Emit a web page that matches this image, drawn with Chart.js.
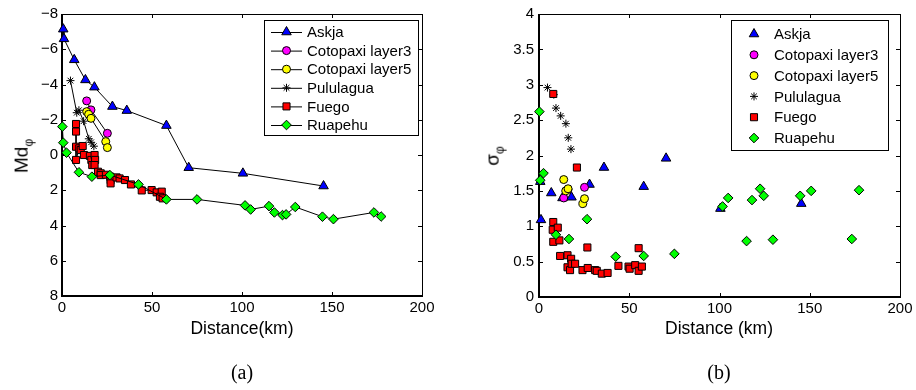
<!DOCTYPE html>
<html>
<head>
<meta charset="utf-8">
<script src="https://cdn.jsdelivr.net/npm/chart.js@4.4.0/dist/chart.umd.min.js"></script>
<style>
  body { margin: 0; background: #fff; }
  #wrap { position: relative; width: 916px; height: 390px; font-family: 'Liberation Sans', Arial, sans-serif; color: #000; }
  canvas { position: absolute; top: 0; }
  .lbl { position: absolute; transform: translate(-50%, -50%); white-space: nowrap; font-size: 17.5px; line-height: 1; }
  .rot { transform: translate(-50%, -50%) rotate(-90deg); font-size: 19px; }
  .cap { font-family: 'Liberation Serif', serif; font-size: 20px; }
  sub { font-size: 12px; }
</style>
</head>
<body>
<div id="wrap">
  <canvas id="chartA" width="458" height="390" style="left:0"></canvas>
  <canvas id="chartB" width="458" height="390" style="left:458px"></canvas>
  <div class="lbl rot" style="left:23px;top:156px">Md<sub>φ</sub></div>
  <div class="lbl rot" style="left:494px;top:156px">σ<sub>φ</sub></div>
  <div class="lbl" style="left:242px;top:329px">Distance(km)</div>
  <div class="lbl" style="left:719px;top:329px">Distance (km)</div>
  <div class="lbl cap" style="left:242px;top:372px">(a)</div>
  <div class="lbl cap" style="left:719px;top:372px">(b)</div>
</div>
<script>
// dữ liệu
const askjaDist = [0.7, 1.1, 6.8, 13, 18, 28, 36, 58, 70.4, 100.5, 145.3];
const askjaMd = [-7.14, -6.59, -5.4, -4.26, -3.85, -2.75, -2.52, -1.67, 0.72, 1.04, 1.76];
const askjaSigma = [1.63, 1.09, 1.47, 1.40, 1.41, 1.59, 1.83, 1.56, 1.96, 1.25, 1.32];

const coto3Dist = [13.7, 16.1, 25.2];
const coto3Md = [-3.07, -2.56, -1.23];
const coto3Sigma = [1.40, 1.52, 1.55];

const coto5Dist = [13.7, 14.8, 16.1, 24.3, 25.2];
const coto5Md = [-2.46, -2.31, -2.08, -0.76, -0.42];
const coto5Sigma = [1.66, 1.50, 1.53, 1.32, 1.39];

const pulDist = [4.7, 8.2, 9.4, 12, 14.9, 16.2, 17.7];
const pulMd = [-4.22, -2.4, -2.54, -1.92, -0.92, -0.72, -0.5];
const pulSigma = [2.96, 2.86, 2.67, 2.56, 2.45, 2.25, 2.09];

const fuegoDistA = [7.8, 7.8, 7.8, 7.8, 9.6, 10.4, 11.5, 12.2, 15.5, 16.3, 16.8, 18.1, 18.4, 18.1, 20.0, 21.5, 21.5, 24.4, 26.8, 27.0, 27.0, 30.3, 32.0, 35.0, 38.3, 44.3, 49.8, 52.6, 55.4, 54.4, 55.9];
const fuegoMd = [-1.76, -1.33, -0.47, 0.28, -0.38, -0.28, -0.51, 0.0, 0.05, 0.28, 0.57, 0.0, 0.28, 0.57, 0.95, 1.04, 1.14, 1.12, 1.23, 1.42, 1.61, 1.27, 1.33, 1.42, 1.67, 2.01, 1.99, 2.12, 2.08, 2.37, 2.46];
const fuegoDistB = [7.9, 7.9, 7.6, 7.9, 10.4, 11.3, 11.7, 15.8, 15.8, 17.2, 17.8, 18.1, 20.0, 21.0, 24.1, 26.8, 27.0, 31.1, 32.0, 34.8, 38.0, 44.0, 49.6, 50.2, 53.3, 55.2, 55.2, 57.0];
const fuegoSigma = [2.87, 1.06, 0.95, 0.78, 0.98, 0.80, 0.58, 0.59, 0.42, 0.38, 0.54, 0.47, 0.47, 1.83, 0.38, 0.70, 0.41, 0.38, 0.37, 0.33, 0.34, 0.44, 0.43, 0.40, 0.45, 0.69, 0.37, 0.43];

const ruaDist = [0.2, 0.7, 2.5, 9.4, 16.6, 26.6, 42.5, 58, 75, 101.7, 104.8, 115, 118, 122.5, 124.5, 129.6, 144.7, 150.8, 173.3, 177.3];
const ruaMd = [-1.61, -0.70, -0.13, 0.98, 1.23, 1.14, 1.67, 2.52, 2.52, 2.86, 3.09, 2.90, 3.26, 3.41, 3.37, 2.95, 3.5, 3.64, 3.26, 3.49];
const ruaSigma = [2.62, 1.65, 1.75, 0.88, 0.82, 1.10, 0.57, 0.58, 0.61, 1.28, 1.40, 0.79, 1.37, 1.53, 1.43, 0.81, 1.43, 1.50, 0.82, 1.51];

const xTicksMax = 200;
const mdRange = [-8, 8];
const sigmaRange = [0, 4];

const FONT = "'Liberation Sans', Arial, sans-serif";

function pts(dist, vals) {
    return dist.map((d, i) => ({ x: d, y: vals[i] }));
}

// kiểu điểm của từng chuỗi
const styles = [
    { label: 'Askja', pointStyle: 'triangle', color: '#0000ff', radius: 5.5 },
    { label: 'Cotopaxi layer3', pointStyle: 'circle', color: '#ff00ff', radius: 4 },
    { label: 'Cotopaxi layer5', pointStyle: 'circle', color: '#ffff00', radius: 4 },
    { label: 'Pululagua', pointStyle: 'star', color: '#000000', radius: 4 },
    { label: 'Fuego', pointStyle: 'rect', color: '#ff0000', radius: 5 },
    { label: 'Ruapehu', pointStyle: 'rectRot', color: '#00ff00', radius: 4.8 }
];

function makeDatasets(seriesData, withLine) {
    return seriesData.map((d, i) => {
        const s = styles[i];
        return {
            label: s.label,
            data: d,
            showLine: withLine,
            borderColor: '#000',
            borderWidth: 1,
            backgroundColor: s.color,
            pointStyle: s.pointStyle,
            pointRadius: s.radius,
            pointBackgroundColor: s.color,
            pointBorderColor: '#000',
            pointBorderWidth: 1,
            clip: false,
            order: styles.length - i
        };
    });
}

// khung + vạch chia hướng vào trong (giống MATLAB)
const boxPlugin = {
    id: 'boxTicks',
    beforeDatasetsDraw(chart) {
        const { ctx, chartArea: a, scales } = chart;
        const len = 4;
        ctx.save();
        ctx.strokeStyle = '#000';
        ctx.lineWidth = 1;
        ctx.beginPath();
        scales.x.ticks.forEach((t, i) => {
            const px = Math.round(scales.x.getPixelForTick(i)) + 0.5;
            ctx.moveTo(px, a.bottom); ctx.lineTo(px, a.bottom - len);
            ctx.moveTo(px, a.top); ctx.lineTo(px, a.top + len);
        });
        scales.y.ticks.forEach((t, i) => {
            const py = Math.round(scales.y.getPixelForTick(i)) + 0.5;
            ctx.moveTo(a.left, py); ctx.lineTo(a.left + len, py);
            ctx.moveTo(a.right, py); ctx.lineTo(a.right - len, py);
        });
        ctx.stroke();
        ctx.strokeRect(Math.round(a.left) + 0.5, Math.round(a.top) + 0.5, Math.round(a.right - a.left), Math.round(a.bottom - a.top));
        ctx.lineWidth = 2;
        ctx.beginPath();
        ctx.moveTo(Math.round(a.left), a.top);
        ctx.lineTo(Math.round(a.left), Math.round(a.bottom));
        ctx.lineTo(a.right, Math.round(a.bottom));
        ctx.stroke();
        ctx.restore();
    }
};

// chú giải trong khung
const boxLegend = {
    id: 'boxLegend',
    afterDraw(chart, args, o) {
        const { ctx } = chart;
        ctx.save();
        ctx.fillStyle = '#fff';
        ctx.fillRect(o.x, o.y, o.w, o.h);
        ctx.strokeStyle = '#000';
        ctx.lineWidth = 1;
        ctx.strokeRect(o.x + 0.5, o.y + 0.5, o.w, o.h);
        ctx.font = '15px ' + FONT;
        ctx.textBaseline = 'middle';
        chart.data.datasets.forEach((ds, i) => {
            const cy = o.y + o.first + i * o.step;
            if (o.line) {
                ctx.strokeStyle = '#000';
                ctx.lineWidth = 1;
                ctx.beginPath();
                ctx.moveTo(o.lineX0, cy + 0.5);
                ctx.lineTo(o.lineX1, cy + 0.5);
                ctx.stroke();
            }
            ctx.fillStyle = ds.pointBackgroundColor;
            ctx.strokeStyle = '#000';
            ctx.lineWidth = 1;
            Chart.helpers.drawPoint(ctx, {
                pointStyle: ds.pointStyle,
                radius: ds.pointRadius,
                rotation: 0,
                borderWidth: 1
            }, o.markX, cy);
            ctx.fillStyle = '#000';
            ctx.fillText(ds.label, o.textX, cy + 1);
        });
        ctx.restore();
    }
};

function tickFont() {
    return { family: FONT, size: 15 };
}

const ctxA = document.getElementById('chartA').getContext('2d');
new Chart(ctxA, {
    type: 'scatter',
    data: {
        datasets: makeDatasets([
            pts(askjaDist, askjaMd),
            pts(coto3Dist, coto3Md),
            pts(coto5Dist, coto5Md),
            pts(pulDist, pulMd),
            pts(fuegoDistA, fuegoMd),
            pts(ruaDist, ruaMd)
        ], true)
    },
    options: {
        responsive: false,
        animation: false,
        events: [],
        layout: { padding: { left: 0, right: 36, top: 14, bottom: 0 } },
        plugins: {
            legend: { display: false },
            tooltip: { enabled: false },
            boxLegend: { x: 264, y: 20, w: 154, h: 115, first: 12, step: 18.6, line: true, lineX0: 271, lineX1: 302, markX: 286.5, textX: 307 }
        },
        scales: {
            x: {
                type: 'linear', min: 0, max: xTicksMax,
                ticks: { stepSize: 50, padding: 3, color: '#000', font: tickFont(), maxRotation: 0 },
                grid: { display: false, drawTicks: false },
                border: { display: false },
                afterFit: s => { s.height = 94; }
            },
            y: {
                type: 'linear', reverse: true, min: mdRange[0], max: mdRange[1],
                ticks: { stepSize: 2, padding: 4, color: '#000', font: tickFont(),
                    callback: v => String(v).replace('-', '\u2212') },
                grid: { display: false, drawTicks: false },
                border: { display: false },
                afterFit: s => { s.width = 62; }
            }
        }
    },
    plugins: [boxPlugin, boxLegend]
});

const ctxB = document.getElementById('chartB').getContext('2d');
new Chart(ctxB, {
    type: 'scatter',
    data: {
        datasets: makeDatasets([
            pts(askjaDist, askjaSigma),
            pts(coto3Dist, coto3Sigma),
            pts(coto5Dist, coto5Sigma),
            pts(pulDist, pulSigma),
            pts(fuegoDistB, fuegoSigma),
            pts(ruaDist, ruaSigma)
        ], false)
    },
    options: {
        responsive: false,
        animation: false,
        events: [],
        layout: { padding: { left: 0, right: 16, top: 14, bottom: 0 } },
        plugins: {
            legend: { display: false },
            tooltip: { enabled: false },
            boxLegend: { x: 273, y: 20, w: 157, h: 130, first: 14, step: 20.8, line: false, markX: 296, textX: 316 }
        },
        scales: {
            x: {
                type: 'linear', min: 0, max: xTicksMax,
                ticks: { stepSize: 50, padding: 3, color: '#000', font: tickFont(), maxRotation: 0 },
                grid: { display: false, drawTicks: false },
                border: { display: false },
                afterFit: s => { s.height = 93; }
            },
            y: {
                type: 'linear', min: sigmaRange[0], max: sigmaRange[1],
                ticks: { stepSize: 0.5, padding: 5, color: '#000', font: tickFont(),
                    callback: v => String(v) },
                grid: { display: false, drawTicks: false },
                border: { display: false },
                afterFit: s => { s.width = 81; }
            }
        }
    },
    plugins: [boxPlugin, boxLegend]
});
</script>
</body>
</html>
